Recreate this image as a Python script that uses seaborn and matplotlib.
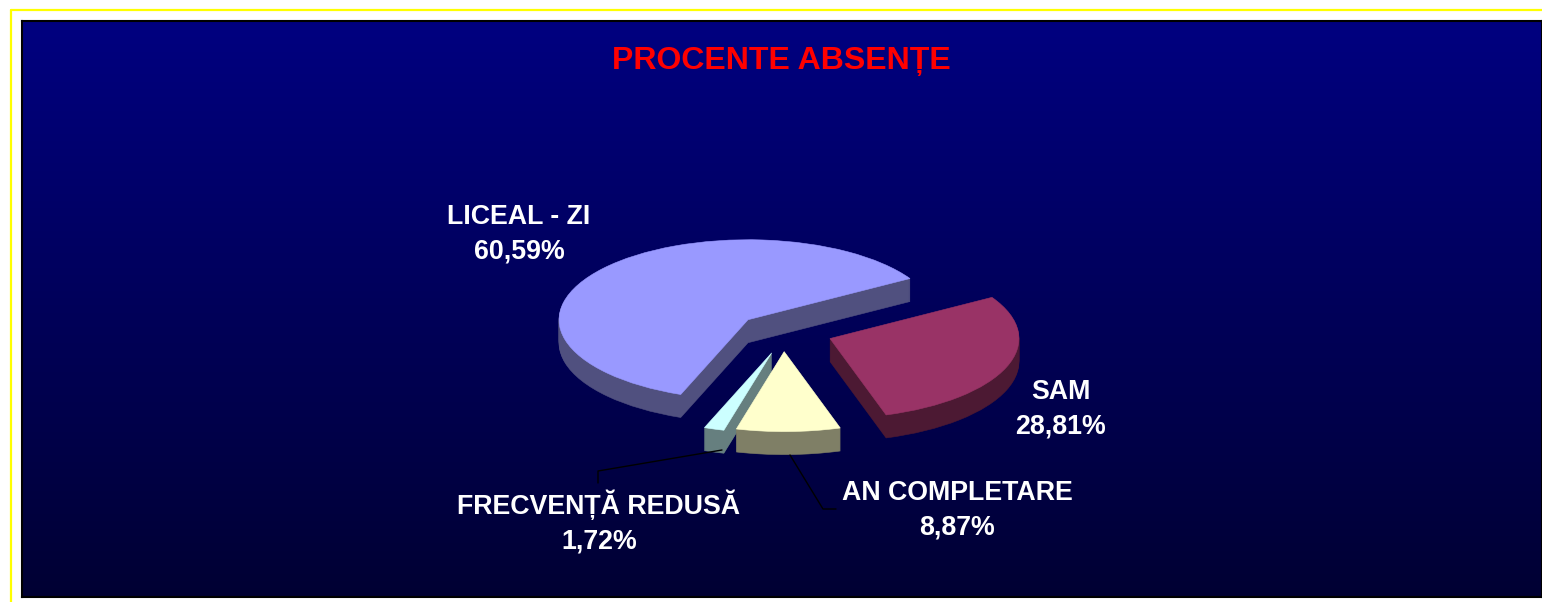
import numpy as np
import matplotlib
matplotlib.use('Agg')
import matplotlib.pyplot as plt
from matplotlib.colors import LinearSegmentedColormap
from matplotlib.lines import Line2D
import seaborn as sns

# Date
categorii = ['LICEAL - ZI', 'FRECVENȚĂ REDUSĂ', 'AN COMPLETARE', 'SAM']
procente = [60.59, 1.72, 8.87, 28.81]
etichete = ['60,59%', '1,72%', '8,87%', '28,81%']
titlu = 'PROCENTE ABSENȚE'

culori_sus = ['#9999FF', '#CCFFFF', '#FFFFCC', '#993366']
culori_lat = ['#50507F', '#667F7F', '#7F7F66', '#4C1933']
explode = [0.2, 0.3, 0.27, 0.3]

W, H = 1542, 602
sns.set_theme(style='white')
plt.rcParams['font.family'] = ['Liberation Sans', 'DejaVu Sans']

fig = plt.figure(figsize=(W / 100, H / 100), dpi=100, facecolor='white')


def px(x, y):
    # pixeli din imagine -> coordonate figura
    return x / W, 1 - y / H


# Chenar galben
fig.add_artist(Line2D([11 / W, 11 / W], [0, 1 - 10 / H], color='#FFFF00', lw=1.6))
fig.add_artist(Line2D([11 / W, 1], [1 - 10 / H, 1 - 10 / H], color='#FFFF00', lw=1.6))

# Fundal cu gradient
bg = fig.add_axes([22 / W, 1 - 597 / H, 1 - 22 / W, 576 / H])
cmap = LinearSegmentedColormap.from_list('fundal', ['#000080', '#000033'])
bg.imshow(np.linspace(0, 1, 256).reshape(-1, 1), aspect='auto', cmap=cmap)
bg.set_xticks([])
bg.set_yticks([])
for s in bg.spines.values():
    s.set_color('black')
    s.set_linewidth(1.5)

# Placinta "3D": straturi intunecate si deasupra cea colorata
ax = fig.add_axes([0, 0, 1, 1])
ax.patch.set_alpha(0)
rx, ry, adancime = 189, 80, 23
# felii mici deplasate putin spre dreapta, ca in original
deplasare = [0, 12 / rx, 6 / rx, 0]


def strat(culori, y0):
    felii, _ = ax.pie(procente, explode=explode, startangle=31, colors=culori,
                      center=(0, y0), normalize=True,
                      wedgeprops={'linewidth': 0.4})
    for felie, dx in zip(felii, deplasare):
        c = felie.center
        felie.set_center((c[0] + dx, c[1]))
        felie.set_edgecolor(felie.get_facecolor())


for d in range(adancime, 0, -1):
    strat(culori_lat, -d / ry)
strat(culori_sus, 0)
ax.set_aspect('auto')
cx, cy = 777, 330
ax.set_xlim(-cx / rx, (W - cx) / rx)
ax.set_ylim(-(H - cy) / ry, cy / ry)
ax.axis('off')

# Linii de legatura
for xs, ys in [([722, 598, 598], [450, 471, 483]), ([790, 823, 836], [455, 509, 509])]:
    fig.add_artist(Line2D([x / W for x in xs], [1 - y / H for y in ys], color='black', lw=1))

# Texte
fig.text(*px(781, 61), titlu, color='#FF0000', fontsize=23, fontweight='bold',
         ha='center', va='center')
pozitii = [(519, 234), (599, 522), (957, 510), (1061, 409)]
for nume, val, (x, y) in zip(categorii, etichete, pozitii):
    fig.text(*px(x, y), f'{nume}\n{val}', color='white', fontsize=19.3, fontweight='bold',
             ha='center', va='center', linespacing=1.42)

fig.savefig('out.png', dpi=100, facecolor='white')
